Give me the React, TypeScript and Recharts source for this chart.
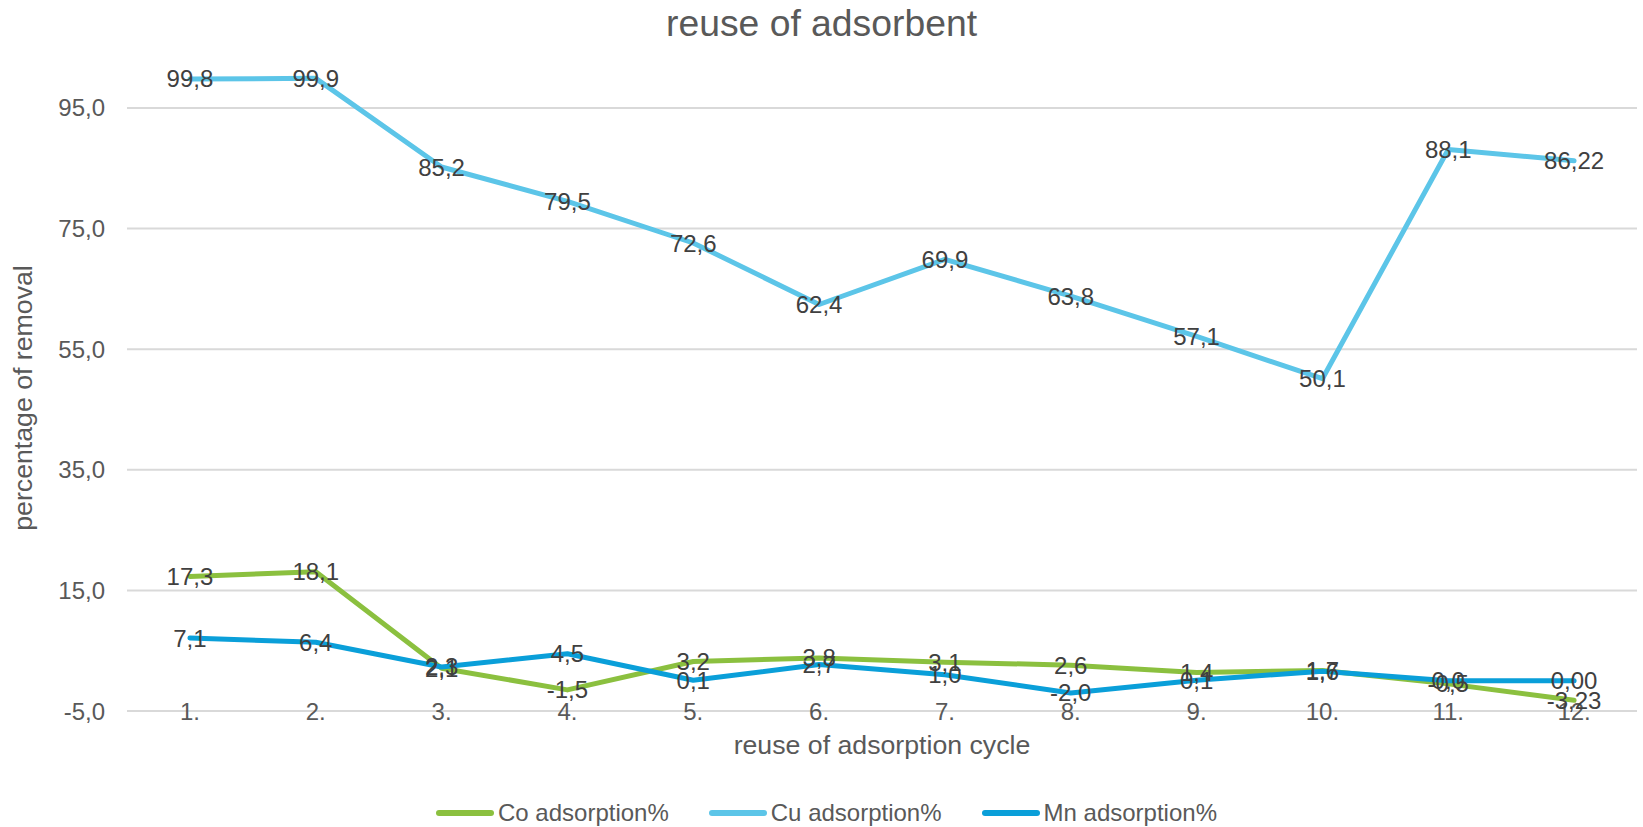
import { LineChart, Line, XAxis, YAxis, CartesianGrid, LabelList } from "recharts";

const categories = ["1.", "2.", "3.", "4.", "5.", "6.", "7.", "8.", "9.", "10.", "11.", "12."];
const coValues = [17.3, 18.1, 2.1, -1.5, 3.2, 3.8, 3.1, 2.6, 1.4, 1.7, -0.5, -3.23];
const cuValues = [99.8, 99.9, 85.2, 79.5, 72.6, 62.4, 69.9, 63.8, 57.1, 50.1, 88.1, 86.22];
const mnValues = [7.1, 6.4, 2.3, 4.5, 0.1, 2.7, 1.0, -2.0, 0.1, 1.6, 0.0, 0.0];
const yTicks = [-5, 15, 35, 55, 75, 95];

// last point of each series is shown with two decimals in the original
const fmt = (v: number, i: number) => v.toFixed(i === 11 ? 2 : 1).replace(".", ",");

const data = categories.map((cat, i) => ({
  cat,
  co: coValues[i],
  cu: cuValues[i],
  mn: mnValues[i],
  coLabel: fmt(coValues[i], i),
  cuLabel: fmt(cuValues[i], i),
  mnLabel: fmt(mnValues[i], i),
}));

const series = [
  { key: "co", name: "Co adsorption%", color: "#8BC03F" },
  { key: "cu", name: "Cu adsorption%", color: "#5CC5E8" },
  { key: "mn", name: "Mn adsorption%", color: "#0A9FD9" },
];

const FONT = "'Liberation Sans', Arial, sans-serif";

const XTick = (props: any) => {
  const { x, y, payload } = props;
  return (
    <text x={x} y={y + 8.5} textAnchor="middle" fill="#595959" fontSize={24} fontFamily={FONT}>
      {payload.value}
    </text>
  );
};

export default function App() {
  return (
    <div style={{ position: "absolute", left: 0, top: 0, width: 1643, height: 827, background: "#fff", fontFamily: FONT }}>
      <div style={{ position: "absolute", top: 2, left: 0, width: 1643, textAlign: "center", fontSize: 37.3, lineHeight: "42px", color: "#595959" }}>
        reuse of adsorbent
      </div>
      <LineChart width={1643} height={827} data={data} margin={{ top: 47.6, right: 6, bottom: 115, left: 0 }}>
        <CartesianGrid vertical={false} horizontalValues={yTicks} stroke="#D9D9D9" strokeWidth={2} />
        <XAxis
          dataKey="cat"
          axisLine={false}
          tickLine={false}
          tickSize={0}
          tickMargin={0}
          height={1}
          padding={{ left: 62.9, right: 62.9 }}
          tick={<XTick />}
          interval={0}
        />
        <YAxis
          width={127}
          domain={[-5, 105]}
          ticks={yTicks}
          axisLine={false}
          tickLine={false}
          tickSize={0}
          tickMargin={22}
          allowDataOverflow
          tickFormatter={(v: number) => v.toFixed(1).replace(".", ",")}
          tick={{ fill: "#595959", fontSize: 24, fontFamily: FONT }}
        />
        {series.map((s) => (
          <Line
            key={s.key}
            type="linear"
            dataKey={s.key}
            name={s.name}
            stroke={s.color}
            strokeWidth={5}
            strokeLinecap="round"
            strokeLinejoin="round"
            dot={false}
            activeDot={false}
            isAnimationActive={false}
          >
            <LabelList dataKey={`${s.key}Label`} position="center" fill="#404040" fontSize={24} fontFamily={FONT} />
          </Line>
        ))}
      </LineChart>
      <div style={{ position: "absolute", top: 728, left: 127, width: 1510, textAlign: "center", fontSize: 26.7, lineHeight: "34px", color: "#595959" }}>
        reuse of adsorption cycle
      </div>
      <div
        style={{
          position: "absolute",
          left: 23,
          top: 398,
          transform: "translate(-50%, -50%) rotate(-90deg)",
          whiteSpace: "nowrap",
          fontSize: 26.7,
          lineHeight: "34px",
          color: "#595959",
        }}
      >
        percentage of removal
      </div>
      <div style={{ position: "absolute", top: 797, left: 0, width: 1643, display: "flex", justifyContent: "center", paddingLeft: 10, boxSizing: "border-box" }}>
        {series.map((s) => (
          <div key={s.key} style={{ display: "flex", alignItems: "center", margin: "0 20px" }}>
            <svg width={58} height={10} style={{ marginRight: 4 }}>
              <line x1={3} y1={5} x2={55} y2={5} stroke={s.color} strokeWidth={6} strokeLinecap="round" />
            </svg>
            <span style={{ fontSize: 24, lineHeight: "32px", color: "#595959" }}>{s.name}</span>
          </div>
        ))}
      </div>
    </div>
  );
}
